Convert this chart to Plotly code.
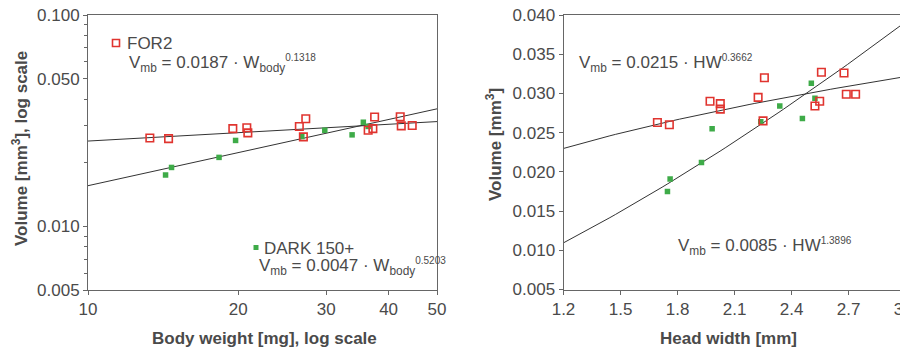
import numpy as np
import plotly.graph_objects as go

# the page body adds an 8px margin, so the figure is drawn 8px smaller and coordinates shifted
OFF = 8
W, H = 908 - OFF, 354 - OFF

# ---- data ----
for2_weight = [13.3, 14.5, 19.5, 20.8, 20.9, 26.5, 27.3, 27.0, 36.4, 37.2, 37.5, 42.2, 42.4, 44.6]
for2_vol_w = [0.0262, 0.0260, 0.0290, 0.0293, 0.0277, 0.0297, 0.0323, 0.0265, 0.0285, 0.0290, 0.0329, 0.0330, 0.0299, 0.0300]
dark_weight = [14.3, 14.7, 18.3, 19.75, 26.8, 29.8, 33.8, 35.6, 36.4]
dark_vol_w = [0.0175, 0.0190, 0.0212, 0.0255, 0.0266, 0.0285, 0.0271, 0.0311, 0.0297]

for2_hw = [1.694, 1.757, 1.971, 2.025, 2.025, 2.224, 2.257, 2.250, 2.523, 2.548, 2.557, 2.676, 2.688, 2.737]
for2_vol_hw = [0.0263, 0.0260, 0.0290, 0.0287, 0.0280, 0.0295, 0.0320, 0.0265, 0.0284, 0.0290, 0.0327, 0.0326, 0.0299, 0.0299]
dark_hw = [1.747, 1.761, 1.926, 1.982, 2.238, 2.338, 2.457, 2.504, 2.523]
dark_vol_hw = [0.0175, 0.0191, 0.0212, 0.0255, 0.0264, 0.0284, 0.0268, 0.0313, 0.0294]

# fitted power laws V = a * x^b (as printed on the chart)
fit_for2_w = (0.0187, 0.1318)
fit_dark_w = (0.0047, 0.5203)
fit_for2_hw = (0.0215, 0.3662)
fit_dark_hw = (0.0085, 1.3896)

x_ticks_w = [10, 20, 30, 40, 50]
y_ticks_w = [0.005, 0.010, 0.050, 0.100]
y_ticklabels_w = ["0.005", "0.010", "0.050", "0.100"]
y_minor_w = [0.006, 0.007, 0.008, 0.009, 0.02, 0.03, 0.04, 0.06, 0.07, 0.08, 0.09]
x_ticks_hw = [1.2, 1.5, 1.8, 2.1, 2.4, 2.7, 3.0]
y_ticks_hw = [0.005, 0.010, 0.015, 0.020, 0.025, 0.030, 0.035, 0.040]

RED = "#e0342f"
GREEN = "#3eab48"
LINE = "#333333"
AX = "#666666"
TXT = "#4a4a4a"
FONT = "Liberation Sans, Arial, sans-serif"


def px(x):
    return (x - OFF) / W


def py(y):
    return 1 - (y - OFF) / H


fig = go.Figure()

# left panel
wline = np.array([10.0, 50.0])
hwline = np.linspace(1.2, 3.0, 60)
fig.add_trace(go.Scatter(x=wline, y=fit_for2_w[0] * wline ** fit_for2_w[1], mode="lines",
                         line=dict(color=LINE, width=1), xaxis="x", yaxis="y", showlegend=False))
fig.add_trace(go.Scatter(x=wline, y=fit_dark_w[0] * wline ** fit_dark_w[1], mode="lines",
                         line=dict(color=LINE, width=1), xaxis="x", yaxis="y", showlegend=False))
fig.add_trace(go.Scatter(x=dark_weight, y=dark_vol_w, mode="markers", name="DARK 150+",
                         marker=dict(symbol="square", size=5.5, color=GREEN), xaxis="x", yaxis="y", showlegend=False))
fig.add_trace(go.Scatter(x=for2_weight, y=for2_vol_w, mode="markers", name="FOR2",
                         marker=dict(symbol="square-open", size=7.5, color=RED, line=dict(width=1.6)),
                         xaxis="x", yaxis="y", showlegend=False))

# right panel
fig.add_trace(go.Scatter(x=hwline, y=fit_for2_hw[0] * hwline ** fit_for2_hw[1], mode="lines",
                         line=dict(color=LINE, width=1), xaxis="x2", yaxis="y2", showlegend=False))
fig.add_trace(go.Scatter(x=hwline, y=fit_dark_hw[0] * hwline ** fit_dark_hw[1], mode="lines",
                         line=dict(color=LINE, width=1), xaxis="x2", yaxis="y2", showlegend=False))
fig.add_trace(go.Scatter(x=dark_hw, y=dark_vol_hw, mode="markers", name="DARK 150+",
                         marker=dict(symbol="square", size=5.5, color=GREEN), xaxis="x2", yaxis="y2", showlegend=False))
fig.add_trace(go.Scatter(x=for2_hw, y=for2_vol_hw, mode="markers", name="FOR2",
                         marker=dict(symbol="square-open", size=7.5, color=RED, line=dict(width=1.6)),
                         xaxis="x2", yaxis="y2", showlegend=False))

axis_common = dict(showline=True, linecolor=AX, linewidth=1, mirror=True, showgrid=False, zeroline=False,
                   ticks="outside", ticklen=4, tickcolor=AX, tickwidth=1, ticklabeloverflow="allow",
                   tickfont=dict(family=FONT, size=17, color=TXT), automargin=False)

fig.update_layout(
    width=W, height=H, margin=dict(l=0, r=0, t=0, b=0),
    paper_bgcolor="white", plot_bgcolor="white",
    xaxis=dict(domain=[px(88), px(437)], anchor="y", type="log",
               range=[1, np.log10(50)], tickmode="array", tickvals=x_ticks_w,
               ticktext=[str(v) for v in x_ticks_w], **axis_common),
    yaxis=dict(domain=[py(290), py(15)], anchor="x", type="log",
               range=[np.log10(0.005), -1], tickmode="array", tickvals=y_ticks_w,
               ticktext=y_ticklabels_w,
               minor=dict(tickmode="array", tickvals=y_minor_w, ticks="outside", ticklen=3,
                          tickcolor=AX, showgrid=False),
               **axis_common),
    xaxis2=dict(domain=[px(563.5), px(905.6)], anchor="y2", range=[1.2, 3.0],
                tickmode="array", tickvals=x_ticks_hw, ticktext=[f"{v:.1f}" for v in x_ticks_hw],
                **axis_common),
    yaxis2=dict(domain=[py(289.5), py(15)], anchor="x2", range=[0.005, 0.040],
                tickmode="array", tickvals=y_ticks_hw, ticktext=[f"{v:.3f}" for v in y_ticks_hw],
                **axis_common),
)

# legend-like symbols
fig.add_shape(type="rect", xref="paper", yref="paper",
              x0=px(112.5), x1=px(119.5), y0=py(46.5), y1=py(39.5),
              line=dict(color=RED, width=1.6), fillcolor="white")
fig.add_shape(type="rect", xref="paper", yref="paper",
              x0=px(253.5), x1=px(258.5), y0=py(250), y1=py(245),
              line=dict(width=0), fillcolor=GREEN)


def ann(text, x, y, size=17, angle=0, xanchor="left"):
    fig.add_annotation(text=text, xref="paper", yref="paper", x=px(x), y=py(y),
                       xanchor=xanchor, yanchor="middle", showarrow=False, textangle=angle,
                       font=dict(family=FONT, size=size, color=TXT))


def formula(coef, var, sub, exp):
    s = "V<sub>mb</sub> = " + coef + " · " + var
    if sub:
        s += "<sub>" + sub + "</sub>"
    s += "<sup><span style='font-size:10px'>" + exp + "</span></sup>"
    return s


ann("FOR2", 125, 43)
ann(formula("0.0187", "W", "body", "0.1318"), 127, 63)
ann("DARK 150+", 262, 248)
ann(formula("0.0047", "W", "body", "0.5203"), 257, 266)
ann(formula("0.0215", "HW", "", "0.3662"), 577, 63)
ann(formula("0.0085", "HW", "", "1.3896"), 676, 246)

# axis titles
ann("<b>Body weight [mg], log scale</b>", 264, 338, xanchor="center")
ann("<b>Head width [mm]</b>", 728, 338, xanchor="center")
ann("<b>Volume [mm<sup>3</sup>], log scale</b>", 20, 149, angle=-90, xanchor="center")
ann("<b>Volume [mm<sup>3</sup>]</b>", 494, 145, angle=-90, xanchor="center")

fig.write_html("out.html")
